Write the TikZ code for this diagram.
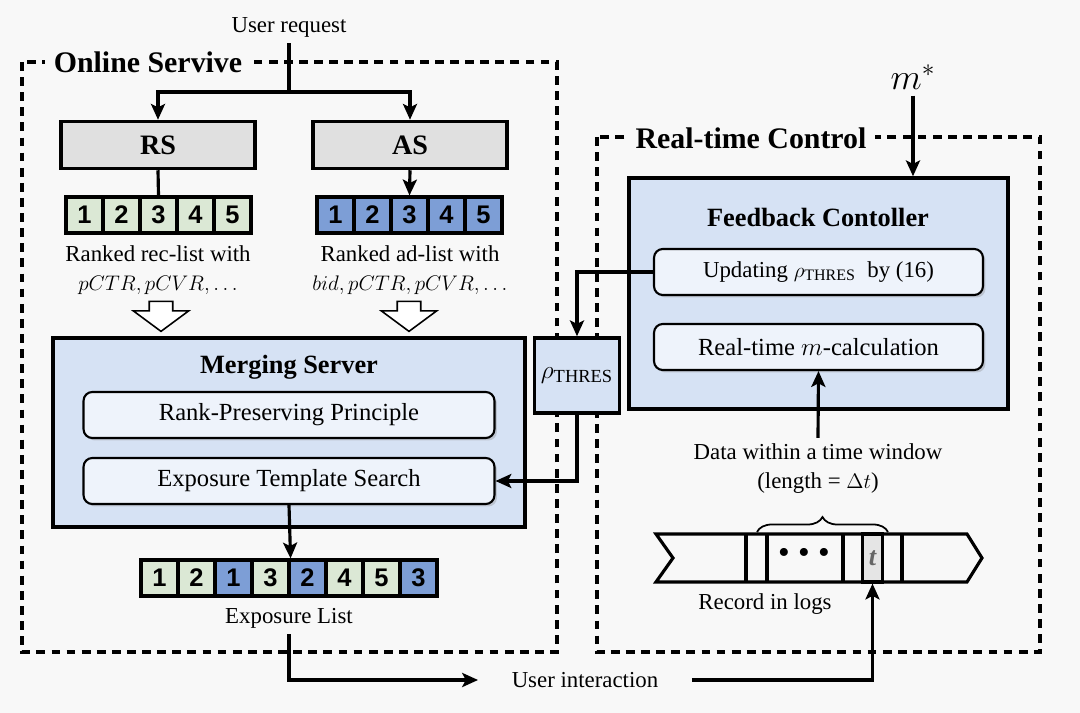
\documentclass[tikz,border=0pt]{standalone}
\usepackage{fontspec}
\setmainfont{Liberation Serif}
\newfontfamily\cellfont{Liberation Sans}
\usetikzlibrary{arrows.meta, positioning, calc, shapes.arrows, shadows, decorations.pathreplacing}

\definecolor{bgc}{RGB}{248,248,248}
\definecolor{srvgray}{RGB}{224,224,224}
\definecolor{recgreen}{RGB}{219,232,213}
\definecolor{adblue}{RGB}{125,158,214}
\definecolor{panelblue}{RGB}{214,226,244}
\definecolor{subblue}{RGB}{238,243,251}

\begin{document}
\begin{tikzpicture}[
    x=0.02cm, y=-0.02cm,
    >={Stealth[length=9pt,width=8pt,inset=2pt]},
    font=\fontsize{13}{16.5}\selectfont,
    % Boxes
    server/.style={draw, line width=2pt, fill=srvgray, minimum width=3.88cm,
                   minimum height=0.94cm, font=\fontsize{16}{18}\selectfont\bfseries},
    cell/.style  ={draw, line width=1.8pt, minimum width=0.74cm, minimum height=0.72cm,
                   inner sep=0pt, font=\cellfont\bfseries\fontsize{14.5}{14.5}\selectfont},
    panel/.style ={draw, line width=2pt, fill=panelblue},
    sub/.style   ={draw, line width=1.2pt, rounded corners=5pt, fill=subblue,
                   minimum width=8.22cm, minimum height=0.92cm, font=\fontsize{14}{16}\selectfont,
                   drop shadow={shadow xshift=0.05cm, shadow yshift=-0.05cm, opacity=0.35, fill=black!45}},
    hollow/.style={draw, fill=white, line width=0.9pt, single arrow, rotate=-90,
                   minimum height=0.6cm, inner xsep=0pt, inner ysep=0.22cm,
                   single arrow head extend=0.32cm, single arrow tip angle=107},
    ttl/.style   ={font=\fontsize{15}{17}\selectfont\bfseries},
    group/.style ={font=\fontsize{17}{19}\selectfont\bfseries, fill=bgc, inner sep=5pt},
    % Lines
    dashbox/.style={draw, line width=1.8pt, dash pattern=on 5pt off 3.6pt},
    wire/.style  ={line width=1.8pt},
    logbar/.style={line width=1.8pt}
]

% Canvas
\fill[bgc] (0,0) rectangle (1080,713);
\useasboundingbox (0,0) rectangle (1080,713);

% Dashed groups
\draw[dashbox] (22,62) rectangle (557,652);
\draw[dashbox] (597,137) rectangle (1040,652);
\node[group] (onl) at (148,62) {Online Servive};
\node[group] (rtc) at (751,138) {Real-time Control};

% --------------------------- Online service ---------------------------
\node (req) at (289,27) {User request};
\coordinate (split) at (289,92);

\node[server] (rs) at (158,145) {RS};
\node[server] (as) at (410,145) {AS};

\foreach \n [count=\i] in {1,...,5}
  \node[cell, fill=recgreen] (rs\i) at ({47.5+37*\i},215) {\n};
\foreach \n [count=\i] in {1,...,5}
  \node[cell, fill=adblue] (as\i) at ({298.5+37*\i},215) {\n};

\node[align=center] (rslab) at (158,270) {Ranked rec-list with\\$pCTR, pCVR, \dots$};
\node[align=center] (aslab) at (410,270) {Ranked ad-list with\\$bid, pCTR, pCVR, \dots$};

\node[hollow] (rsarr) at (161,312) {};
\node[hollow] (asarr) at (409,312) {};

% Merging server
\node[panel, minimum width=9.44cm, minimum height=3.78cm] (merge) at (289,432.5) {};
\node[ttl] (mtitle) at (289,367) {Merging Server};
\node[sub] (rpp) at (289,415) {Rank-Preserving Principle};
\node[sub] (ets) at (289,481) {Exposure Template Search};

\node[panel, minimum width=1.7cm, minimum height=1.5cm, font=\fontsize{15}{17}\selectfont]
  (rho) at (577,375.5) {$\rho_{\mathrm{THRES}}$};

% Exposure list
\foreach \n/\c [count=\i] in {1/recgreen,2/recgreen,1/adblue,3/recgreen,2/adblue,4/recgreen,5/recgreen,3/adblue}
  \node[cell, fill=\c] (ex\i) at ({122.5+37*\i},578) {\n};
\node (exlab) at (289,618) {Exposure List};
\node (uint) at (585,680) {User interaction};

% --------------------------- Real-time control ------------------------
\node[font=\fontsize{20}{22}\selectfont] (mstar) at (913,77) {$m^*$};
\node[panel, minimum width=7.58cm, minimum height=4.62cm] (fb) at (818.5,293.5) {};
\node[ttl] (fbtitle) at (818,217) {Feedback Contoller};
\node[sub, minimum width=6.58cm, font=\fontsize{13}{15}\selectfont] (upd) at (818.5,272) {Updating $\rho_{\mathrm{THRES}}$\ \ by (16)};
\node[sub, minimum width=6.58cm] (mcalc) at (818.5,347) {Real-time $m$-calculation};

\node[align=center] (win) at (818,469) {Data within a time window\\(length = $\Delta t$)};

% Log record bar
\draw[logbar] (656,534) -- (967,534) -- (982,558) -- (967,582) -- (656,582) -- (673,558) -- cycle;
\foreach \x in {746,767,843,902}
  \draw[logbar] (\x,534) -- (\x,582);
\node[draw, logbar, fill=black!10, minimum width=0.39cm, minimum height=0.96cm, inner sep=0pt,
      text=black!60, font=\fontsize{15}{15}\selectfont\bfseries\itshape] (tcell) at (872.5,558) {t};
\node[font=\fontsize{19}{19}\selectfont] (dots) at (804,556) {\textbullet\ \textbullet\ \textbullet};
\node (rec) at (765,604) {Record in logs};
\draw[line width=1pt, decorate, decoration={brace, amplitude=0.3cm}] (757,532) -- (888,532);

% ============================ Wiring ==================================
\draw[wire] (req.south) -- (split);
\draw[wire,->] (split) -| (rs.north);
\draw[wire,->] (split) -| (as.north);
\draw[wire] (rs.south) -- (rs3.north);
\draw[wire,->] (as.south) -- (as3.north);

\draw[wire,->] (ets.south) -- (ex4.north east);
\draw[wire,->,shorten >=0.55cm] (exlab.south) |- (uint.west);
\draw[wire,->,shorten <=0.55cm] (uint.east) -| (tcell.south);

\draw[wire,->] (mstar.south) -- (mstar.south |- fb.north);
\draw[wire,->] (upd.west) -| (rho.north);
\draw[wire,->] (rho.south) |- (ets.east);
\draw[wire,->] (win.north) -- (mcalc.south);

\end{tikzpicture}
\end{document}
